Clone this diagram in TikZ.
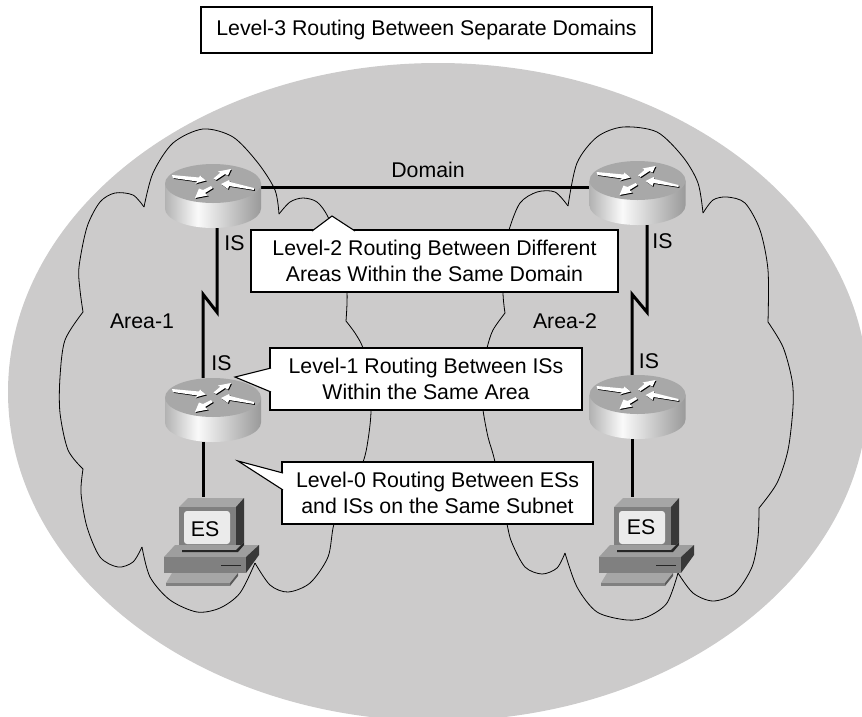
\documentclass[tikz,border=0pt]{standalone}
\usepackage{fontspec}
\setmainfont{Liberation Sans}
\usepackage{xcolor}
\definecolor{bgshade}{HTML}{CCCBCB}
\pgfdeclarehorizontalshading{routerside}{100bp}{
	color(0bp)=(black!50);
	color(22bp)=(black!35);
	color(42bp)=(black!2);
	color(62bp)=(black!25);
	color(100bp)=(black!68)}
\tikzset{
	cloudline/.style={line width=0.8pt, black},
	link/.style={line width=3pt, black},
	msgbox/.style={draw=black, fill=white, line width=1.1pt, align=center, inner sep=0pt, font=\fontsize{21.3}{25.5}\selectfont},
	msgtail/.style={draw=black, fill=white, line width=1.1pt, line join=miter},
	txt/.style={font=\fontsize{21.3}{25}\selectfont, inner sep=0pt},
	routerbox/.style={minimum width=96pt, minimum height=64pt, inner sep=0pt},
	hostbox/.style={minimum height=64pt, inner sep=0pt, font=\fontsize{21.3}{25}\selectfont},
	router/.pic={
		\shade[shading=routerside] (-48,-12.5) -- (-48,12.5) arc[start angle=180, end angle=0, x radius=48, y radius=19.5] -- (48,-12.5) -- cycle;
		\fill[black!34] (0,-12.5) ellipse [x radius=48, y radius=19.5];
		\foreach \col/\off in {black/0.9, white/0} {
			\begin{scope}[shift={(\off,\off)}]
				\fill[\col] (-41,-21) -- (-14,-18.5) -- (-13,-20.5) -- (-7,-15.5) -- (-18,-12.5) -- (-15.5,-14.5) -- (-40,-18) -- cycle;
				\fill[\col] (0.5,-17.5) -- (7,-23) -- (5,-24.5) -- (18,-27) -- (15,-20.5) -- (12,-22) -- (3,-16) -- cycle;
				\fill[\col] (41,-8) -- (17,-14) -- (16,-16) -- (8,-12) -- (15,-7) -- (16,-10) -- (41,-6) -- cycle;
				\fill[\col] (-2,-10) -- (-10,-6) -- (-14,-7.5) -- (-18,2) -- (-5,-0.5) -- (-8,-3) -- (0,-8) -- cycle;
			\end{scope}
		}
	},
	host/.pic={
		\fill[black!35] (-27,-22) -- (-18,-31) -- (38,-31) -- (30,-22) -- cycle;
		\fill[black!50] (-27,-22) rectangle (30,21);
		\fill[black!78] (30,-22) -- (38,-31) -- (38,13) -- (30,21) -- cycle;
		\fill[black!8, rounded corners=3pt] (-22,-18) rectangle (24,15);
		\fill[black!38] (-42,28) -- (-31,16) -- (53,16) -- (40,28) -- cycle;
		\fill[black!85] (-24,21) -- (30,21) -- (38,13) -- (38,16) -- (32,23) -- (-24,23) -- cycle;
		\fill[black!50] (-42,28) rectangle (40,44);
		\fill[black!78] (40,28) -- (53,16) -- (53,26) -- (40,44) -- cycle;
		\draw[black!85, line width=1pt] (15,36) -- (35,36);
		\fill[black!35] (-40,54) -- (-34,44) -- (32,44) -- (24,54) -- cycle;
		\fill[black!50] (-40,54) rectangle (24,57);
		\fill[black!65] (24,54) -- (32,44) -- (32,47) -- (24,57) -- cycle;
	}
}
\begin{document}
\begin{tikzpicture}[x=1pt, y=-1pt]
	\useasboundingbox (0,0) rectangle (862,716);
	\begin{scope}
		\clip (0,0) rectangle (862,716);
		\fill[bgshade] (438,392) ellipse [x radius=430, y radius=329];
	\end{scope}

	% area 1
	\draw[cloudline] plot[smooth] coordinates {(144,207) (153,173) (173,143) (203,129) (233,137) (258,163) (275,190) (279,214)};
	\draw[cloudline] plot[smooth] coordinates {(279,214) (290,202) (303,198) (317,202) (328,217) (342,253) (347,292) (346,321)};
	\draw[cloudline] plot[smooth] coordinates {(346,321) (355,333) (363,348) (368,373) (371,410) (368,440) (363,462) (347,497) (334,524) (328,557) (310,583) (288,592) (270,585) (255,563)};
	\draw[cloudline] plot[smooth] coordinates {(255,563) (240,593) (220,608) (197,612) (170,600) (150,577) (142,547)};
	\draw[cloudline] plot[smooth] coordinates {(142,547) (133,562) (118,567) (100,557) (87,527) (81,493) (83,469)};
	\draw[cloudline] plot[smooth] coordinates {(83,469) (68,450) (60,413) (60,377) (65,340) (83,312)};
	\draw[cloudline] plot[smooth] coordinates {(83,312) (80,290) (79,267) (87,227) (100,202) (115,193) (133,195) (144,207)};

	% area 2
	\draw[cloudline] plot[smooth] coordinates {(568,206) (577,163) (597,137) (623,127) (657,132) (683,157) (698,183) (703,213)};
	\draw[cloudline] plot[smooth] coordinates {(703,213) (713,200) (727,197) (745,203) (760,230) (768,270) (768,322)};
	\draw[cloudline] plot[smooth] coordinates {(768,322) (783,347) (792,380) (793,407) (788,450) (777,483) (759,508)};
	\draw[cloudline] plot[smooth] coordinates {(759,508) (758,537) (752,567) (735,593) (713,601) (693,593) (678,573)};
	\draw[cloudline] plot[smooth] coordinates {(678,573) (667,603) (647,617) (627,620) (597,612) (577,587) (565,553)};
	\draw[cloudline] plot[smooth] coordinates {(565,553) (557,568) (542,574) (525,567) (512,543) (507,524) (495,462) (488,437) (483,410) (480,380) (487,348) (493,330) (505,313)};
	\draw[cloudline] plot[smooth] coordinates {(505,313) (503,292) (505,253) (509,230) (520,203) (537,192) (555,192) (568,206)};

	\node[routerbox] (r1) at (213,196) {};
	\node[routerbox] (r2) at (213,410) {};
	\node[routerbox] (r3) at (637.5,193) {};
	\node[routerbox] (r4) at (637.5,407) {};
	\node[hostbox] (h1) at (206,529) {};
	\node[hostbox] (h2) at (641,529) {};

	\draw[link] ([yshift=9pt]r1.east) -- ([yshift=6pt]r3.west);
	\draw[link, line join=miter] ([xshift=4pt]r1.south) -- ++(0,84) -- ++(-14,-18) -- ([xshift=-10pt]r2.north);
	\draw[link, line join=miter] ([xshift=9.5pt]r3.south) -- ++(0,87) -- ++(-15,-18) -- ([xshift=-5.5pt]r4.north);
	\draw[link] ([xshift=-10pt]r2.south) -- ([xshift=-3pt]h1.north);
	\draw[link] ([xshift=-5.5pt]r4.south) -- ([xshift=-9pt]h2.north);

	\pic at (r1) {router};
	\pic at (r2) {router};
	\pic at (r3) {router};
	\pic at (r4) {router};
	\pic at (h1) {host};
	\pic at (h2) {host};
	\node[hostbox] (es1) at (205,529) {ES};
	\node[hostbox] (es2) at (641,527) {ES};

	\node[txt] (domain) at (428,170) {Domain};
	\node[txt] (area1) at (142,321) {Area-1};
	\node[txt] (area2) at (565,321) {Area-2};
	\node[txt] (is1) at (234.5,243) {IS};
	\node[txt] (is2) at (221.5,363) {IS};
	\node[txt] (is3) at (662.5,241) {IS};
	\node[txt] (is4) at (649,361) {IS};

	\node[msgbox, minimum width=451pt, minimum height=46pt] (title) at (426.5,30) {Level-3 Routing Between Separate Domains};
	\node[msgbox, minimum width=367pt, minimum height=62pt] (lvl2) at (434.5,261) {Level-2 Routing Between Different\\Areas Within the Same Domain};
	\node[msgbox, minimum width=312pt, minimum height=62pt] (lvl1) at (426,379) {Level-1 Routing Between ISs\\Within the Same Area};
	\node[msgbox, minimum width=311pt, minimum height=62pt] (lvl0) at (437.5,493) {Level-0 Routing Between ESs\\and ISs on the Same Subnet};

	\coordinate (tip2) at (332,216);
	\coordinate (tip1) at (235,377);
	\coordinate (tip0) at (238,461);
	\draw[msgtail] (312,231) -- (tip2) -- (355,231);
	\draw[msgtail] (271,368) -- (tip1) -- (271,392);
	\draw[msgtail] (283,473) -- (tip0) -- (283,490);
\end{tikzpicture}
\end{document}
